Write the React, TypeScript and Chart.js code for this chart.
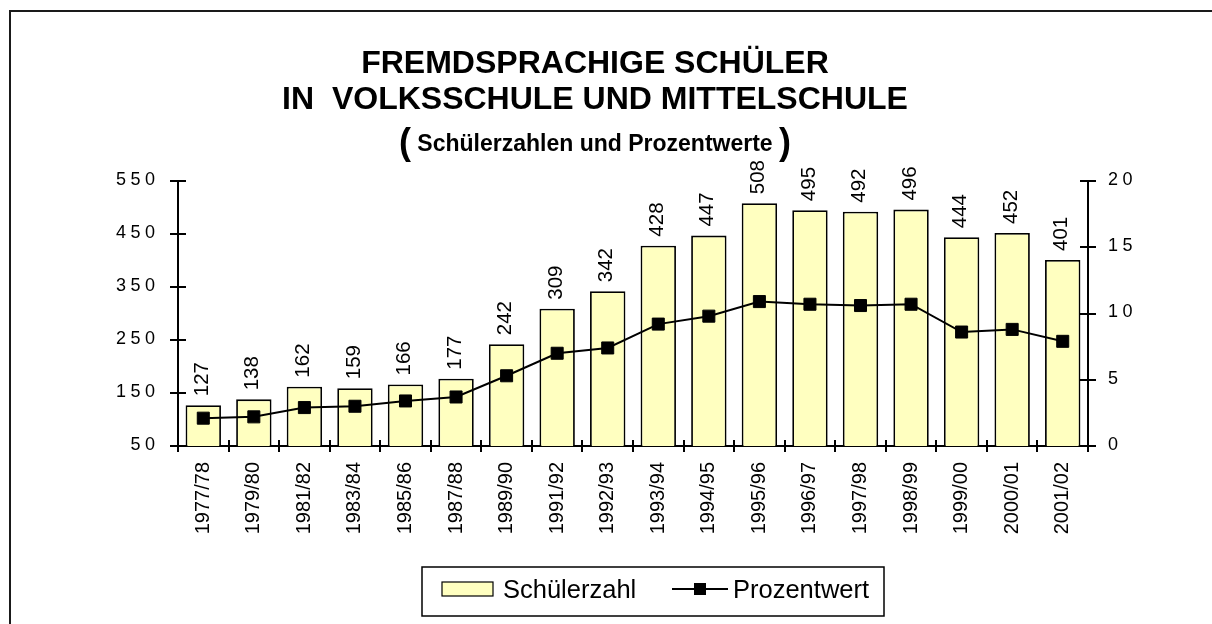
import React, { useEffect, useRef } from 'react';
import { Chart, registerables } from 'chart.js';

Chart.register(...registerables);

const FONT = '"Liberation Sans", Arial, Helvetica, sans-serif';

const categories = ['1977/78', '1979/80', '1981/82', '1983/84', '1985/86', '1987/88', '1989/90', '1991/92', '1992/93', '1993/94', '1994/95', '1995/96', '1996/97', '1997/98', '1998/99', '1999/00', '2000/01', '2001/02'];
const studentCounts = [127, 138, 162, 159, 166, 177, 242, 309, 342, 428, 447, 508, 495, 492, 496, 444, 452, 401];
const percentValues = [2.1, 2.2, 2.9, 3.0, 3.4, 3.7, 5.3, 7.0, 7.4, 9.2, 9.8, 10.9, 10.7, 10.6, 10.7, 8.6, 8.8, 7.9];

const titleLine1 = 'FREMDSPRACHIGE SCHÜLER';
const titleLine2 = 'IN  VOLKSSCHULE UND MITTELSCHULE';
const subtitleText = 'Schülerzahlen und Prozentwerte';
const seriesBarLabel = 'Schülerzahl';
const seriesLineLabel = 'Prozentwert';

const BAR_FILL = '#FFFFC0';

const decorPlugin = {
  id: 'decor',
  beforeDraw(chart: any) {
    const ctx = chart.ctx;
    ctx.save();
    ctx.fillStyle = '#ffffff';
    ctx.fillRect(0, 0, chart.width, chart.height);
    // frame
    ctx.strokeStyle = '#1a1a1a';
    ctx.lineWidth = 2;
    ctx.beginPath();
    ctx.moveTo(10, 2000);
    ctx.lineTo(10, 11);
    ctx.lineTo(2000, 11);
    ctx.stroke();
    // title
    const cx = 595;
    ctx.fillStyle = '#000';
    ctx.textAlign = 'center';
    ctx.textBaseline = 'alphabetic';
    ctx.font = `bold 32px ${FONT}`;
    ctx.fillText(titleLine1, cx, 73);
    ctx.fillText(titleLine2, cx, 109);
    // subtitle with large parens
    const parenFont = `bold 36px ${FONT}`;
    const innerFont = `bold 23px ${FONT}`;
    ctx.font = parenFont;
    const wp = ctx.measureText('(').width;
    ctx.font = innerFont;
    const inner = ' ' + subtitleText + ' ';
    const wi = ctx.measureText(inner).width;
    const total = wp * 2 + wi;
    let x = cx - total / 2;
    ctx.textAlign = 'left';
    ctx.font = parenFont;
    ctx.fillText('(', x, 154);
    x += wp;
    ctx.font = innerFont;
    ctx.fillText(inner, x, 151);
    x += wi;
    ctx.font = parenFont;
    ctx.fillText(')', x, 154);
    ctx.restore();
  },
  beforeDatasetsDraw(chart: any) {
    // inward halves of the crossing tick marks
    const ctx = chart.ctx;
    const { x, y, y1 } = chart.scales;
    ctx.save();
    ctx.strokeStyle = '#000';
    ctx.lineWidth = 2;
    ctx.beginPath();
    y.ticks.forEach((t: any) => {
      const py = Math.round(y.getPixelForValue(t.value));
      ctx.moveTo(y.right, py);
      ctx.lineTo(y.right + 8, py);
    });
    y1.ticks.forEach((t: any) => {
      const py = Math.round(y1.getPixelForValue(t.value));
      ctx.moveTo(y1.left, py);
      ctx.lineTo(y1.left - 8, py);
    });
    for (let i = 0; i <= categories.length; i++) {
      const px = Math.round(x.getPixelForValue(i - 0.5));
      ctx.moveTo(px, x.top);
      ctx.lineTo(px, x.top - 6);
    }
    ctx.stroke();
    ctx.restore();
  },
  afterDraw(chart: any) {
    const ctx = chart.ctx;
    const { y, y1 } = chart.scales;
    ctx.save();
    ctx.fillStyle = '#000';
    // y tick labels (letter spaced)
    ctx.font = `18px ${FONT}`;
    ctx.textBaseline = 'middle';
    ctx.textAlign = 'left';
    const sp = 4.5;
    (ctx as any).letterSpacing = `${sp}px`;
    y.ticks.forEach((t: any) => {
      const label = String(t.value);
      const w = ctx.measureText(label).width - sp;
      ctx.fillText(label, 155 - w, y.getPixelForValue(t.value) - 1);
    });
    y1.ticks.forEach((t: any) => {
      const label = String(t.value);
      ctx.fillText(label, 1108, y1.getPixelForValue(t.value) - 1);
    });
    (ctx as any).letterSpacing = '0px';
    // bar value labels, rotated
    const meta = chart.getDatasetMeta(1);
    ctx.font = `20.5px ${FONT}`;
    ctx.textAlign = 'left';
    ctx.textBaseline = 'middle';
    meta.data.forEach((bar: any, i: number) => {
      ctx.save();
      ctx.translate(bar.x - 1, bar.y - 9);
      ctx.rotate(-Math.PI / 2);
      ctx.fillText(String(studentCounts[i]), 0, 0);
      ctx.restore();
    });
    // legend
    ctx.lineWidth = 1.5;
    ctx.strokeStyle = '#000';
    ctx.strokeRect(422, 567, 462, 49);
    ctx.fillStyle = BAR_FILL;
    ctx.fillRect(442, 582, 51, 14);
    ctx.lineWidth = 1.2;
    ctx.strokeRect(442, 582, 51, 14);
    ctx.fillStyle = '#000';
    ctx.font = `25.5px ${FONT}`;
    ctx.textBaseline = 'middle';
    ctx.fillText(seriesBarLabel, 503, 591);
    ctx.lineWidth = 2;
    ctx.beginPath();
    ctx.moveTo(672, 589);
    ctx.lineTo(728, 589);
    ctx.stroke();
    ctx.fillRect(694, 583, 12, 12);
    ctx.fillText(seriesLineLabel, 733, 591);
    ctx.restore();
  },
};

export default function App() {
  const ref = useRef<HTMLCanvasElement>(null);
  useEffect(() => {
    const chart = new Chart(ref.current as HTMLCanvasElement, {
      type: 'bar',
      data: {
        labels: categories,
        datasets: [
          {
            type: 'line',
            label: seriesLineLabel,
            data: percentValues,
            yAxisID: 'y1',
            borderColor: '#000',
            borderWidth: 2,
            backgroundColor: '#000',
            pointStyle: 'rect',
            pointRadius: 8.5,
            pointBackgroundColor: '#000',
            pointBorderColor: '#000',
            pointBorderWidth: 1,
            tension: 0,
            order: 0,
          } as any,
          {
            type: 'bar',
            label: seriesBarLabel,
            data: studentCounts,
            yAxisID: 'y',
            backgroundColor: BAR_FILL,
            borderColor: '#000',
            borderWidth: 1.8,
            categoryPercentage: 1,
            barPercentage: 0.7,
            order: 1,
          } as any,
        ],
      },
      options: {
        responsive: false,
        animation: false,
        devicePixelRatio: 1,
        layout: { padding: { left: 0, right: 0, top: 181, bottom: 78 } },
        plugins: {
          legend: { display: false },
          title: { display: false },
          tooltip: { enabled: false },
        },
        scales: {
          x: {
            type: 'category',
            offset: true,
            grid: { display: true, drawOnChartArea: false, drawTicks: true, tickLength: 6, color: '#000', lineWidth: 2, offset: true },
            border: { display: true, color: '#000', width: 2 },
            ticks: {
              autoSkip: false,
              maxRotation: 90,
              minRotation: 90,
              padding: 10,
              color: '#000',
              font: { family: FONT, size: 20 },
            },
            afterFit(scale: any) {
              scale.height = 100;
            },
          },
          y: {
            position: 'left',
            min: 50,
            max: 550,
            ticks: { stepSize: 100, display: false },
            grid: { display: true, drawOnChartArea: false, drawTicks: true, tickLength: 8, color: '#000', lineWidth: 2 },
            border: { display: true, color: '#000', width: 2 },
            afterFit(scale: any) {
              scale.width = 178;
            },
          },
          y1: {
            position: 'right',
            min: 0,
            max: 20,
            ticks: { stepSize: 5, display: false },
            grid: { display: true, drawOnChartArea: false, drawTicks: true, tickLength: 8, color: '#000', lineWidth: 2 },
            border: { display: true, color: '#000', width: 2 },
            afterFit(scale: any) {
              scale.width = 124;
            },
          },
        },
      },
      plugins: [decorPlugin],
    });
    return () => chart.destroy();
  }, []);
  return (
    <canvas
      ref={ref}
      width={1212}
      height={624}
      style={{ position: 'absolute', left: 0, top: 0 }}
    />
  );
}
